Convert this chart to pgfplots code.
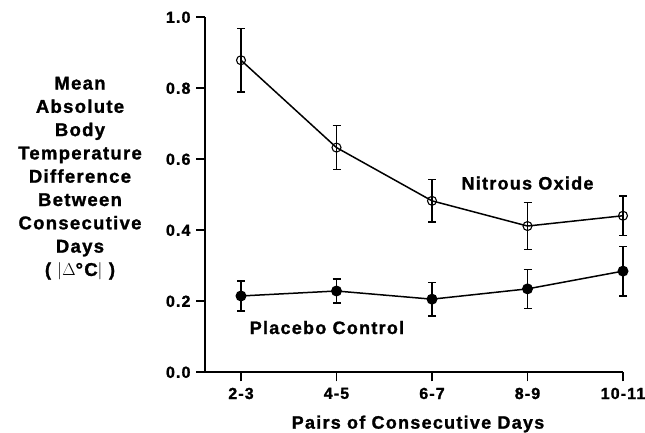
\documentclass[border=0pt]{standalone}
\usepackage{pgfplots}
\pgfplotsset{compat=1.18}
\usepackage{fontspec}
\setmainfont[LetterSpace=7, BoldFeatures={FakeBold=1.3}]{Liberation Sans}
\begin{document}
\begin{tikzpicture}
\begin{axis}[
  name=ax,
  scale only axis,
  width=418pt, height=355pt,
  xmin=-0.377, xmax=4,
  ymin=0, ymax=1,
  axis lines=left,
  axis line style={-, line width=2pt},
  tick style={line width=1.7pt, black},
  tick align=outside,
  major tick length=9pt,
  xtick={0,1,2,3,4},
  xticklabels={2-3,4-5,6-7,8-9,10-11},
  ytick={0,0.2,0.4,0.6,0.8,1.0},
  yticklabel style={/pgf/number format/fixed, /pgf/number format/fixed zerofill, /pgf/number format/precision=1, xshift=-2pt},
  /pgf/number format/assume math mode=true,
  ticklabel style={font=\bfseries\fontsize{16}{16}\selectfont},
  xticklabel style={yshift=-3pt},
  clip=false,
]
\addplot[black, line width=1.5pt, mark=o, mark size=4.5pt, mark options={line width=1.1pt, fill=white},
  error bars/.cd, y dir=both, y explicit, error bar style={line width=1.5pt},
  error mark options={rotate=90, mark size=4pt, line width=1.5pt}]
  coordinates {
  (0,0.879) +- (0,0.09)
  (1,0.633) +- (0,0.062)
  (2,0.483) +- (0,0.06)
  (3,0.412) +- (0,0.066)
  (4,0.441) +- (0,0.055)
  };
\addplot[black, line width=1.5pt, mark=*, mark size=4.7pt,
  error bars/.cd, y dir=both, y explicit, error bar style={line width=1.5pt},
  error mark options={rotate=90, mark size=4pt, line width=1.5pt}]
  coordinates {
  (0,0.215) +- (0,0.042)
  (1,0.229) +- (0,0.034)
  (2,0.206) +- (0,0.047)
  (3,0.235) +- (0,0.055)
  (4,0.285) +- (0,0.07)
  };
\node[font=\bfseries\fontsize{18}{18}\selectfont] at (axis cs:3.0,0.533) {Nitrous Oxide};
\node[font=\bfseries\fontsize{18}{18}\selectfont] at (axis cs:0.9,0.126) {Placebo Control};
\end{axis}
\node[align=center, font=\bfseries\fontsize{18.5}{23.3}\selectfont] at ([shift={(-125pt,193.8pt)}]ax.south west)
  {Mean\\Absolute\\Body\\Temperature\\Difference\\Between\\Consecutive\\Days\\( $|$$\Delta$°C$|$ )};
\node[font=\bfseries\fontsize{18}{18}\selectfont] at ([shift={(213pt,-51.7pt)}]ax.south west) {Pairs of Consecutive Days};
\pgfresetboundingbox
\path[use as bounding box] ([shift={(-205pt,-60.7pt)}]ax.south west) rectangle ++(645pt,433pt);
\end{tikzpicture}
\end{document}
